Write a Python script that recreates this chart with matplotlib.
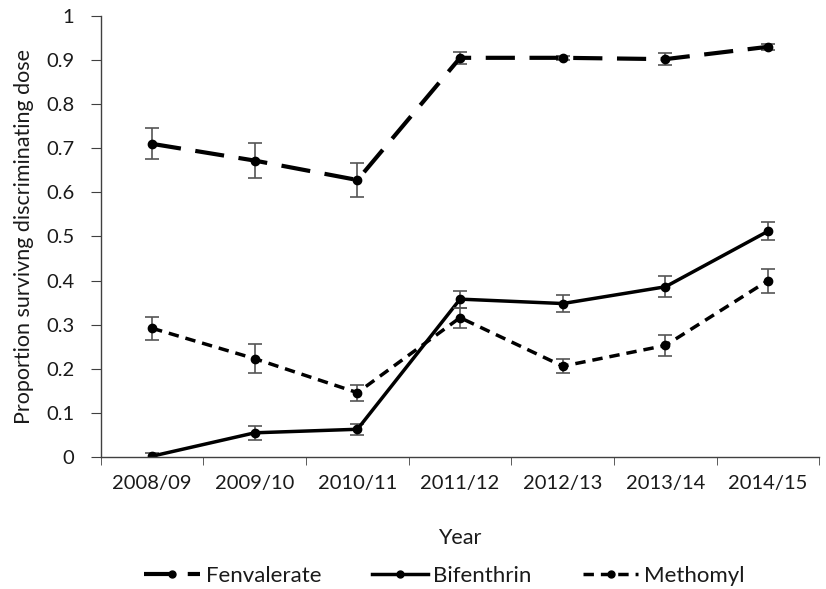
import numpy as np
import matplotlib.pyplot as plt
from matplotlib.lines import Line2D

plt.rcParams['font.family'] = ['Lato', 'DejaVu Sans']

# Anteil überlebender Tiere bei Diskriminierungsdosis je Saison
jahre = ["2008/09", "2009/10", "2010/11", "2011/12", "2012/13", "2013/14", "2014/15"]

fenvalerate = [0.710, 0.672, 0.628, 0.905, 0.905, 0.902, 0.930]
fenvalerate_err = [0.035, 0.039, 0.038, 0.013, 0.005, 0.013, 0.007]

bifenthrin = [0.002, 0.055, 0.063, 0.358, 0.348, 0.386, 0.512]
bifenthrin_err = [0.008, 0.016, 0.013, 0.019, 0.019, 0.024, 0.021]

methomyl = [0.292, 0.223, 0.146, 0.316, 0.206, 0.253, 0.400]
methomyl_err = [0.026, 0.033, 0.018, 0.023, 0.016, 0.024, 0.027]

x = np.arange(len(jahre))
grau = '#404040'
text_farbe = '#1a1a1a'

fig = plt.figure(figsize=(8.26, 5.89), dpi=100)
ax = fig.add_axes([0.122, 0.224, 0.87, 0.749])

stile = [
    (fenvalerate, fenvalerate_err, 'Fenvalerate', dict(lw=3, dashes=(7, 3.5))),
    (bifenthrin, bifenthrin_err, 'Bifenthrin', dict(lw=2.5)),
    (methomyl, methomyl_err, 'Methomyl', dict(lw=2.5, dashes=(3, 2))),
]

handles = []
for werte, fehler, name, st in stile:
    ax.errorbar(x, werte, yerr=fehler, fmt='none', ecolor='#555555',
                elinewidth=1.2, capsize=5, capthick=1.2)
    ax.plot(x, werte, color='black', marker='o', ms=6, **st)
    handles.append(Line2D([], [], color='black', marker='o', ms=5, label=name, **st))

ax.set_xlim(-0.5, 6.5)
ax.set_ylim(0, 1)
ax.set_yticks(np.arange(0, 1.01, 0.1))
ax.set_yticklabels(["0"] + [f"{v:.1f}" for v in np.arange(0.1, 0.95, 0.1)] + ["1"])
ax.set_xticks(x)
ax.set_xticklabels(jahre)
ax.set_xticks(np.arange(-0.5, 6.6, 1), minor=True)
ax.tick_params(axis='x', which='major', length=0, pad=13, labelsize=14.5, colors=text_farbe)
ax.tick_params(axis='x', which='minor', length=6, direction='out', color=grau)
ax.tick_params(axis='y', length=7, direction='out', color=grau, labelsize=14.5,
               labelcolor=text_farbe, pad=12)

for s in ['top', 'right']:
    ax.spines[s].set_visible(False)
for s in ['left', 'bottom']:
    ax.spines[s].set_color(grau)
    ax.spines[s].set_linewidth(1)

ax.set_xlabel("Year", fontsize=15.5, labelpad=26, color=text_farbe)
ax.set_ylabel("Proportion survivng discriminating dose", fontsize=15.5,
              labelpad=9, color=text_farbe)

fig.legend(handles=handles, loc='center', bbox_to_anchor=(0.538, 0.022), ncol=3,
           frameon=False, fontsize=16, handlelength=2.5, columnspacing=2.3,
           handletextpad=0.25, labelcolor=text_farbe, borderaxespad=0, borderpad=0)

fig.savefig("out.png", dpi=100)
